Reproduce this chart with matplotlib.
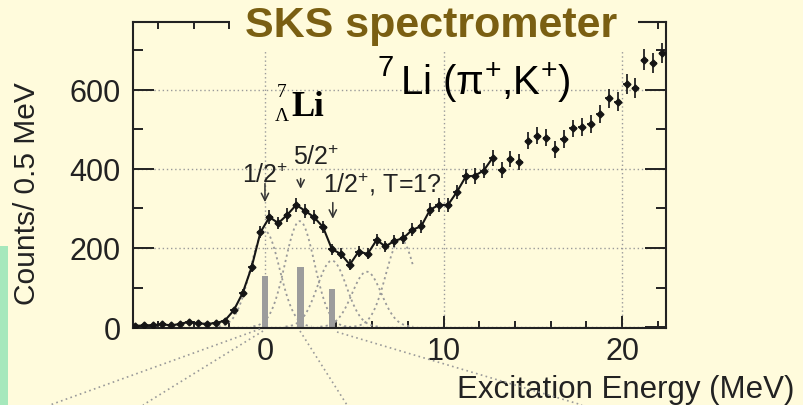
import matplotlib
matplotlib.use("Agg")
import matplotlib.pyplot as plt
import numpy as np
from matplotlib.lines import Line2D
from matplotlib.patches import Rectangle

plt.rcParams["font.family"] = ["Liberation Sans", "DejaVu Sans"]

W, H = 804, 406
BG = "#fffbdc"

# 7Li(pi+,K+) spectrum, 0.5 MeV bins
bin_start = -7.25
bin_width = 0.5
counts = [3, 4, 5, 7, 4, 8, 13, 9, 8, 10, 16, 42, 86, 151, 240, 278, 263, 284, 309, 294,
          278, 253, 197, 185, 158, 191, 185, 220, 204, 218, 225, 246, 255, 297, 309, 309,
          342, 381, 383, 396, 428, 397, 425, 417, 472, 484, 479, 450, 476, 503, 506, 514,
          539, 579, 570, 615, 604, 677, 668, 694]
errors = [2, 2, 2, 3, 2, 3, 4, 3, 3, 3, 4, 6, 9, 12, 15, 17, 16, 17, 18, 17,
          17, 16, 14, 14, 13, 14, 14, 15, 14, 15, 15, 16, 16, 17, 18, 18,
          18, 20, 20, 20, 21, 20, 21, 20, 22, 22, 22, 21, 22, 22, 22, 23,
          23, 24, 24, 25, 25, 26, 26, 26]
fit_end = 12.75

# fitted peak components
peak_centers = [0.0, 1.95, 3.75, 5.7, 7.6]
peak_heights = [243, 268, 168, 140, 222]
peak_sigma = 0.82
peak_lo = [-2.6, -0.65, 1.15, 3.1, 4.4]
peak_hi = [2.6, 4.55, 6.35, 8.3, 8.3]

# calculated states (gray bars)
bar_energy = [0.0, 2.0, 3.75]
bar_height = [130, 151, 95]

# level arrows and labels
arrow_x = [0.0, 2.0, 3.8]
arrow_from = [370, 383, 322]
arrow_to = [309, 343, 267]
state_text = [r"1/2$\mathregular{^{+}}$", r"5/2$\mathregular{^{+}}$", r"1/2$\mathregular{^{+}}$, T=1?"]
state_x = [-1.29, 1.57, 3.25]
state_y = [367, 413, 344]


def fx(x):
    return x / W


def fy(y):
    return 1 - y / H


fig = plt.figure(figsize=(W / 100, H / 100), dpi=100)
fig.patch.set_facecolor(BG)

ax = fig.add_axes([fx(133), fy(329), 533 / W, 306 / H])
ax.set_facecolor(BG)

energy = bin_start + bin_width * np.arange(len(counts))
counts_a = np.array(counts)

for c, h, lo, hi in zip(peak_centers, peak_heights, peak_lo, peak_hi):
    xs = np.linspace(lo, hi, 120)
    ax.plot(xs, h * np.exp(-0.5 * ((xs - c) / peak_sigma) ** 2), ls=(0, (1.2, 1.8)),
            color="#9a9a9a", lw=1.3, zorder=2)

ax.bar(bar_energy, bar_height, width=0.38, color="#9c9c9c", zorder=2)

m = energy <= fit_end
ax.plot(energy[m], counts_a[m], color="#151515", lw=1.5, zorder=3)
ax.errorbar(energy, counts, yerr=errors, xerr=0.2, fmt="D", ms=3.5, color="#151515",
            ecolor="#222222", elinewidth=1.3, capsize=0, zorder=4)

for x, a, b in zip(arrow_x, arrow_from, arrow_to):
    ax.annotate("", xy=(x, b), xytext=(x, a),
                arrowprops=dict(arrowstyle="->", lw=1.1, color="#333333", mutation_scale=13))
for t, x, y in zip(state_text, state_x, state_y):
    ax.text(x, y, t, fontsize=18, ha="left", va="baseline", color="#222222")

ax.text(0.95, 597, "7", fontsize=14, ha="center", va="center", family="Liberation Serif")
ax.text(0.95, 536, "Λ", fontsize=14, ha="center", va="center", family="Liberation Serif")
ax.text(1.5, 558, "Li", fontsize=25, ha="left", va="center", family="Liberation Serif",
        fontweight="bold")

ax.text(6.3, 658, "7", fontsize=21, ha="left", va="center")
ax.text(7.56, 590, r"Li (π$\mathregular{^{+}}$,K$\mathregular{^{+}}$)", fontsize=29,
        ha="left", va="baseline")

ax.set_xlim(-7.39, 22.46)
ax.set_ylim(-2.5, 772)
ax.set_xticks([0, 10, 20])
ax.set_xticks(np.arange(-6, 23, 2), minor=True)
ax.set_yticks([0, 200, 400, 600])
ax.set_yticks([100, 300, 500, 700], minor=True)
ax.tick_params(which="both", direction="in", top=True, right=True, width=1.4, colors="#222222")
ax.tick_params(axis="x", which="major", length=9, labelsize=22, pad=6)
ax.tick_params(axis="x", which="minor", length=5)
ax.tick_params(axis="y", which="major", length=15, labelsize=22, pad=9)
ax.tick_params(axis="y", which="minor", length=7.5)
ax.grid(True, which="major", ls=(0, (1, 2)), color="#9a9a9a", lw=1)
ax.set_axisbelow(True)
for s in ax.spines.values():
    s.set_linewidth(1.5)
    s.set_color("#222222")

ax.set_xlabel("Excitation Energy (MeV)", fontsize=22.5, color="#222222")
ax.xaxis.set_label_coords(0.925, -0.150)
ax.set_ylabel("Counts/ 0.5 MeV", fontsize=21.5, color="#222222")
ax.yaxis.set_label_coords(-0.172, 0.441)

# gap in the top frame under the title
fig.add_artist(Rectangle((fx(230), fy(52)), 408 / W, 44 / H, transform=fig.transFigure,
                         facecolor=BG, edgecolor="none", zorder=2))
fig.text(fx(431), fy(26), "SKS spectrometer", ha="center", va="center", fontsize=31,
         fontweight="bold", color="#7a5f12", zorder=3)

# green strip and zoom guide lines from the slide
fig.add_artist(Rectangle((0, 0), 8 / W, fy(247), transform=fig.transFigure,
                         facecolor="#a6e8bc", edgecolor="none", zorder=1))
for (x0, y0), (x1, y1) in [((260, 330), (50, 406)), ((263, 332), (143, 406)),
                           ((300, 332), (347, 406)), ((337, 333), (582, 406))]:
    fig.add_artist(Line2D([fx(x0), fx(x1)], [fy(y0), fy(y1)], transform=fig.transFigure,
                          ls=(0, (1, 2)), color="#9a9a9a", lw=1.2, zorder=1))

fig.savefig("out.png", dpi=100, facecolor=BG)
